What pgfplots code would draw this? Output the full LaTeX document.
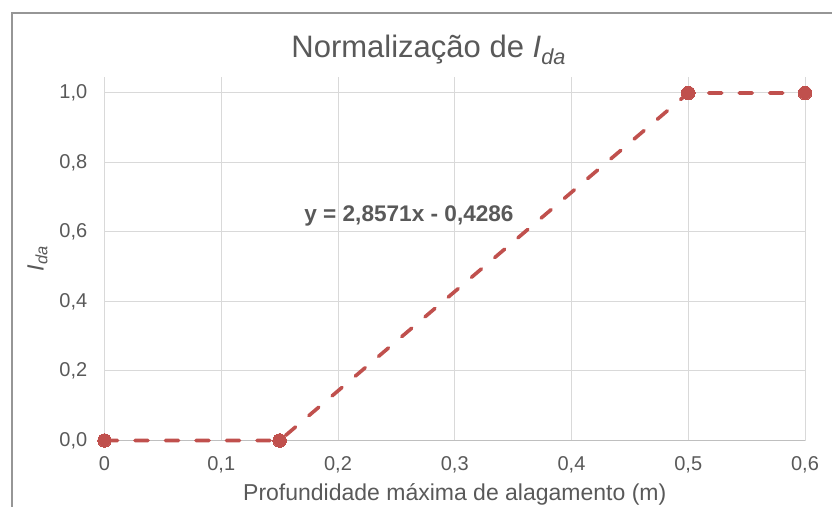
\documentclass[border=0pt]{standalone}
\usepackage{fontspec}
\setmainfont{Liberation Sans}
\usepackage{pgfplots}
\pgfplotsset{compat=1.18}
\definecolor{txt}{HTML}{595959}
\definecolor{grd}{HTML}{D9D9D9}
\definecolor{axl}{HTML}{BFBFBF}
\definecolor{ser}{HTML}{C0504D}
\definecolor{frm}{HTML}{969696}
\begin{document}
\begin{tikzpicture}
\path[use as bounding box] (0,0) rectangle (832pt,506pt);
\draw[frm, line width=1.5pt] (12pt,-20pt) -- (12pt,493pt) -- (870pt,493pt);
\begin{axis}[
  at={(104.5pt,65.5pt)}, anchor=south west,
  scale only axis, width=700.5pt, height=363.5pt,
  xmin=0, xmax=0.6, ymin=0, ymax=1.046,
  clip=false,
  axis line style={draw=none},
  major tick length=0pt,
  tick style={draw=none},
  xtick={0,0.1,0.2,0.3,0.4,0.5,0.6},
  xticklabels={0,{0,1},{0,2},{0,3},{0,4},{0,5},{0,6}},
  ytick={0,0.2,0.4,0.6,0.8,1},
  yticklabels={{0,0},{0,2},{0,4},{0,6},{0,8},{1,0}},
  grid=major,
  major grid style={draw=grd, line width=1pt},
  extra y ticks={0},
  extra y tick labels={},
  extra y tick style={grid=major, major grid style={draw=axl, line width=1pt}},
  ticklabel style={font=\fontsize{20}{24}\selectfont, text=txt},
  xticklabel style={anchor=north, inner sep=0pt, yshift=-16pt},
  yticklabel style={anchor=east, inner sep=0pt, xshift=-17pt},
  title={Normalização de \textit{I}\textsubscript{\textit{da}}},
  title style={at={(rel axis cs:0.4628,1)}, anchor=base, yshift=13.7pt, font=\fontsize{31}{36}\selectfont, text=txt},
  xlabel={Profundidade máxima de alagamento (m)},
  xlabel style={at={(rel axis cs:0.5,0)}, anchor=base, yshift=-59.5pt, font=\fontsize{23}{28}\selectfont, text=txt},
  ylabel={\textit{I}\textsubscript{\textit{da}}},
  every axis y label/.style={at={(rel axis cs:0,0.5)}, xshift=-67pt, anchor=center, rotate=90, font=\fontsize{23.5}{28}\selectfont, text=txt},
]
\addplot[ser, line width=3.6pt, dash pattern=on 13pt off 17.5pt, line cap=round,
  mark=*, mark size=6.8pt, mark options={solid, fill=ser, draw=ser, line width=0pt}]
  coordinates {(0,0) (0.15,0) (0.5,1) (0.6,1)};
\node[anchor=base, font=\bfseries\fontsize{22.6}{26}\selectfont, text=txt] at (axis cs:0.2608,0.6296) {y = 2,8571x - 0,4286};
\end{axis}
\end{tikzpicture}
\end{document}
